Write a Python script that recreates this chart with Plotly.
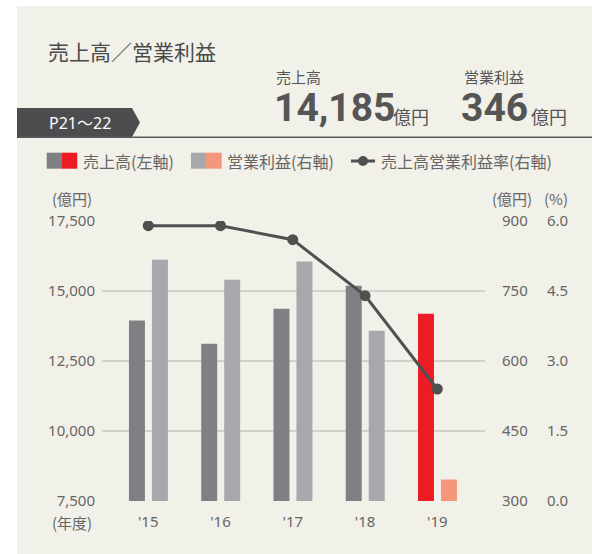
import plotly.graph_objects as go

# ---- data ----
years = ["'15", "'16", "'17", "'18", "'19"]
sales = [13950, 13120, 14370, 15190, 14185]          # 売上高 (億円, left axis)
op_profit = [817, 774, 813, 665, 346]                # 営業利益 (億円, right axis)
op_margin = [5.9, 5.9, 5.6, 4.4, 2.4]                # 売上高営業利益率 (%)
sales_ticks = [7500, 10000, 12500, 15000, 17500]
profit_ticks = [300, 450, 600, 750, 900]
margin_ticks = [0.0, 1.5, 3.0, 4.5, 6.0]

W, H = 592, 554
ML, MR, MT, MB = 102, 0, 221, 53
PW = W - ML - MR
PH = H - MT - MB


def X(px):
    return (px - ML) / PW


def Y(py):
    return (H - MB - py) / PH


CJK = "Noto Sans CJK JP"
NUM = "Noto Sans, Noto Sans CJK JP"
TXT = "#666666"
BG = "#f1f0e9"

xs = list(range(len(years)))
sales_colors = ["#808084"] * 4 + ["#ed1c24"]
profit_colors = ["#a7a8ac"] * 4 + ["#f4977a"]

fig = go.Figure()
fig.add_trace(go.Bar(x=xs, y=sales, yaxis="y", marker=dict(color=sales_colors, line=dict(width=0)),
                     offset=-0.267, width=0.221, name="売上高(左軸)", showlegend=False))
fig.add_trace(go.Bar(x=xs, y=op_profit, yaxis="y2", marker=dict(color=profit_colors, line=dict(width=0)),
                     offset=0.051, width=0.221, name="営業利益(右軸)", showlegend=False))
fig.add_trace(go.Scatter(x=xs, y=op_margin, yaxis="y3", mode="lines+markers",
                         line=dict(color="#505050", width=3),
                         marker=dict(color="#505050", size=11),
                         name="売上高営業利益率(右軸)", showlegend=False))

shapes = []
annotations = []

# white outer strips (left and top), panel is the paper background
shapes.append(dict(type="rect", xref="paper", yref="paper", x0=X(-10), x1=X(17), y0=Y(600), y1=Y(-10),
                   fillcolor="#ffffff", line=dict(width=0), layer="below"))
shapes.append(dict(type="rect", xref="paper", yref="paper", x0=X(-10), x1=X(610), y0=Y(6), y1=Y(-10),
                   fillcolor="#ffffff", line=dict(width=0), layer="below"))
# tab
path = "M {} {} L {} {} L {} {} L {} {} L {} {} Z".format(
    X(17), Y(108), X(132), Y(108), X(140), Y(122.5), X(132), Y(137), X(17), Y(137))
shapes.append(dict(type="path", xref="paper", yref="paper", path=path,
                   fillcolor="#4d4d4f", line=dict(width=0), layer="above"))
shapes.append(dict(type="line", xref="paper", yref="paper", x0=X(17), x1=X(600), y0=Y(137.3), y1=Y(137.3),
                   line=dict(color="#5a5a5a", width=1.5)))


def ann(text, x, y, size, color=TXT, xanchor="left", family=CJK, bold=False):
    annotations.append(dict(text=("<b>%s</b>" % text) if bold else text, x=X(x), y=Y(y),
                            xref="paper", yref="paper", xanchor=xanchor, yanchor="middle",
                            showarrow=False, font=dict(size=size, color=color, family=family)))


# header
ann("売上高／営業利益", 46, 51.5, 21, color="#4a4a4a")
ann("P21～22", 80, 123.5, 16, color="#ffffff", xanchor="center", family=NUM)
ann("売上高", 274, 76.5, 15, color="#555555")
ann("営業利益", 462, 76.5, 15, color="#555555")
ann("14,185", 272, 108, 39, color="#555555", family="Roboto", bold=True)
ann("億円", 391, 116, 18, color="#555555")
ann("346", 459, 108, 39, color="#555555", family="Roboto", bold=True)
ann("億円", 529, 116, 18, color="#555555")

# legend
shapes.append(dict(type="rect", xref="paper", yref="paper", x0=X(46.7), x1=X(62), y0=Y(168.7), y1=Y(152.7),
                   fillcolor="#808084", line=dict(width=0)))
shapes.append(dict(type="rect", xref="paper", yref="paper", x0=X(62), x1=X(77.3), y0=Y(168.7), y1=Y(152.7),
                   fillcolor="#ed1c24", line=dict(width=0)))
shapes.append(dict(type="rect", xref="paper", yref="paper", x0=X(191), x1=X(206), y0=Y(168.7), y1=Y(152.7),
                   fillcolor="#a7a8ac", line=dict(width=0)))
shapes.append(dict(type="rect", xref="paper", yref="paper", x0=X(206), x1=X(221.7), y0=Y(168.7), y1=Y(152.7),
                   fillcolor="#f4977a", line=dict(width=0)))
shapes.append(dict(type="line", xref="paper", yref="paper", x0=X(351), x1=X(375), y0=Y(161), y1=Y(161),
                   line=dict(color="#505050", width=3)))
shapes.append(dict(type="circle", xref="paper", yref="paper", x0=X(358), x1=X(368), y0=Y(166), y1=Y(156),
                   fillcolor="#505050", line=dict(width=0)))
ann("売上高(左軸)", 81, 161, 16)
ann("営業利益(右軸)", 225, 161, 16)
ann("売上高営業利益率(右軸)", 379, 161, 16)

# axis unit labels
ann("(億円)", 72, 198, 15, xanchor="center")
ann("(億円)", 512, 198, 15, xanchor="center")
ann("(%)", 556, 198, 15, xanchor="center")
ann("(年度)", 72, 522, 15, xanchor="center")

fig.update_layout(
    width=W, height=H,
    margin=dict(l=ML, r=MR, t=MT, b=MB, pad=0),
    paper_bgcolor=BG,
    plot_bgcolor="rgba(0,0,0,0)",
    barmode="overlay",
    shapes=shapes,
    annotations=annotations,
    font=dict(family=NUM, color=TXT, size=15),
    xaxis=dict(domain=[0, X(485)], range=[-0.64, 4.66], tickvals=xs, ticktext=years,
               showgrid=False, zeroline=False, showline=False, ticks="",
               tickfont=dict(size=15, color=TXT, family=NUM), ticklabelstandoff=10),
    yaxis=dict(range=[7500, 17500], tickvals=sales_ticks, ticktext=["{:,}".format(v) for v in sales_ticks],
               showgrid=True, gridcolor="#d2d1cb", gridwidth=1.5, zeroline=False, showline=False, ticks="",
               tickfont=dict(size=15, color=TXT, family=NUM), ticklabelstandoff=6),
    yaxis2=dict(range=[300, 900], tickvals=profit_ticks, ticktext=[str(v) for v in profit_ticks],
                overlaying="y", side="right", anchor="x", showgrid=False, zeroline=False, showline=False,
                ticks="", tickfont=dict(size=15, color=TXT, family=NUM), ticklabelstandoff=16),
    yaxis3=dict(range=[0, 6], tickvals=margin_ticks, ticktext=["{:.1f}".format(v) for v in margin_ticks],
                overlaying="y", side="right", anchor="free", position=X(545), showgrid=False,
                zeroline=False, showline=False, ticks="",
                tickfont=dict(size=15, color=TXT, family=NUM), ticklabelstandoff=1),
)

fig.write_html("out.html", config={"displayModeBar": False},
               post_script=("document.body.style.margin='0px';document.body.style.overflow='hidden';"
                            "document.body.style.background='%s';"
                            "document.documentElement.style.background='%s';") % (BG, BG))
